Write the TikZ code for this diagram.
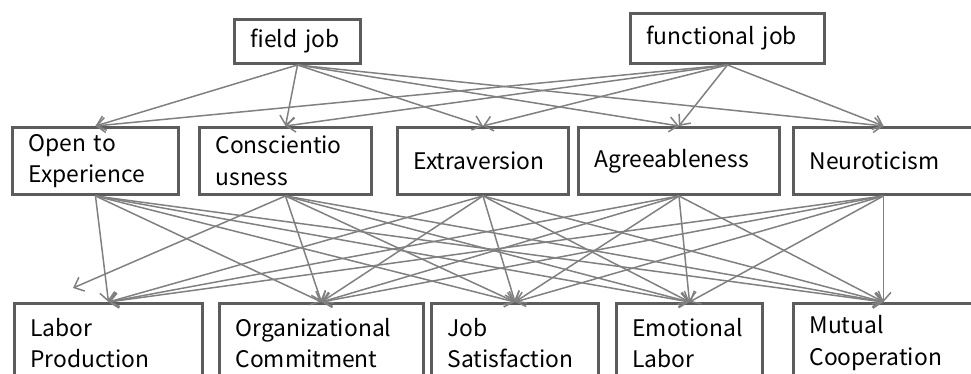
\documentclass[tikz,border=0pt]{standalone}
\usepackage{fontspec}
\setmainfont{Noto Sans CJK KR}
\usetikzlibrary{arrows.meta}

\definecolor{boxgray}{RGB}{92,92,92}
\definecolor{linkgray}{RGB}{128,128,128}

\begin{document}
\begin{tikzpicture}[
		x=0.02cm, y=-0.02cm,
		>={Straight Barb[length=1.7mm,width=3mm]},
		box/.style={draw=boxgray, line width=1.7pt, anchor=north west, align=left,
			inner xsep=0.32cm, inner ysep=0pt, font=\fontsize{13pt}{18pt}\selectfont},
		link/.style={->, draw=linkgray, line width=0.85pt}
	]
		\useasboundingbox (0,0) rectangle (971,374);

		% job type
		\node[box, text width=1.88cm, minimum height=0.88cm] (fj) at (233,18) {field job};
		\node[box, text width=3.24cm, minimum height=1.0cm] (fn) at (629,12) {functional job};

		% personality traits
		\node[box, text width=2.68cm, minimum height=1.34cm] (open) at (11,126) {Open to\\Experience};
		\node[box, text width=2.80cm, minimum height=1.34cm] (consc) at (198,126) {Conscientio\\usness};
		\node[box, text width=2.78cm, minimum height=1.34cm] (extra) at (396,126) {Extraversion};
		\node[box, text width=3.38cm, minimum height=1.34cm] (agree) at (577,126) {Agreeableness};
		\node[box, text width=2.96cm, minimum height=1.34cm] (neuro) at (792,126) {Neuroticism};

		% outcomes
		\node[box, text width=3.12cm, minimum height=1.58cm] (labor) at (13,302) {Labor\\Production};
		\node[box, text width=3.44cm, minimum height=1.58cm] (org) at (218,302) {Organizational\\Commitment};
		\node[box, text width=2.70cm, minimum height=1.58cm] (jobs) at (430,302) {Job\\Satisfaction};
		\node[box, text width=2.28cm, minimum height=1.58cm] (emo) at (615,302) {Emotional\\Labor};
		\node[box, text width=2.96cm, minimum height=1.58cm] (mutual) at (792,302) {Mutual\\Cooperation};

		% job type -> traits
		\foreach \s in {fj,fn}
			\foreach \t in {open,consc,extra,agree,neuro}
				\draw[link] (\s.south) -- (\t.north);

		% traits -> outcomes
		\coordinate (cl) at (73,288);
		\foreach \t in {labor,org,jobs,emo,mutual}
			\draw[link] (open.south) -- (\t.north);
		\foreach \t in {org,jobs,emo,mutual}
			\draw[link] (consc.south) -- (\t.north);
		\draw[link] (consc.south) -- (cl);
		\foreach \s in {extra,agree,neuro}
			\foreach \t in {labor,org,jobs,emo,mutual}
				\draw[link] (\s.south) -- (\t.north);
	\end{tikzpicture}
\end{document}
